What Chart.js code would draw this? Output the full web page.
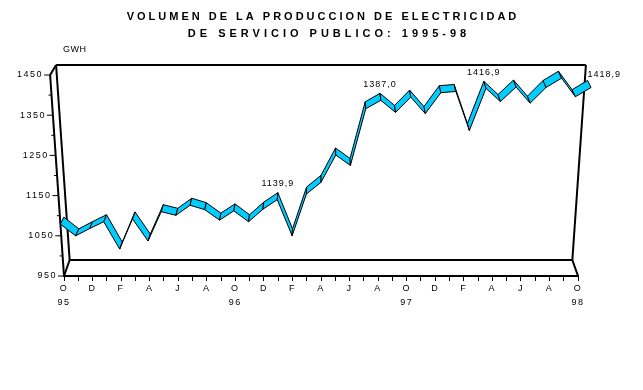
<!DOCTYPE html>
<html>
<head>
<meta charset="utf-8">
<script src="https://cdn.jsdelivr.net/npm/chart.js@4"></script>
<style>html,body{margin:0;padding:0;background:#fff;}canvas{display:block;}</style>
</head>
<body>
<canvas id="c" width="643" height="390"></canvas>
<script>
// ---- data ----
const titleLine1 = 'VOLUMEN DE LA PRODUCCION DE ELECTRICIDAD';
const titleLine2 = 'DE SERVICIO PUBLICO: 1995-98';
const unitLabel = 'GWH';
const months = ['O','N','D','E','F','M','A','M','J','J','A','S',
                'O','N','D','E','F','M','A','M','J','J','A','S',
                'O','N','D','E','F','M','A','M','J','J','A','S','O'];
const years = ['95','96','97','98'];
const gwh = [1079, 1050, 1068, 1085, 1017, 1092, 1037, 1110, 1101, 1126, 1115, 1089,
             1112, 1085, 1116, 1139.9, 1050, 1154, 1183, 1251, 1225, 1366, 1387.0, 1357,
             1395, 1354, 1406, 1409, 1312, 1416.9, 1384, 1420, 1380, 1419, 1442, 1396, 1418.9];
const labelledIdx = [15, 22, 29, 36];
const yTickValues = [950, 1000, 1050, 1100, 1150, 1200, 1250, 1300, 1350, 1400, 1450];
const yLabelValues = [950, 1050, 1150, 1250, 1350, 1450];

// ---- style ----
const FONT = "'Liberation Sans', Arial, sans-serif";
const RIBBON = '#00CCFF';
const SKEW = 0.054;      // perspective widening towards the top
const DEPTH_Y = -7;      // ribbon depth (vertical part)
const DEPTH_X = 0.987;   // ribbon depth (horizontal convergence)
const BACK = 0.978;      // back wall convergence

function skewX(ca, x, y) {
  const cx = (ca.left + ca.right) / 2;
  return cx + (x - cx) * (1 + SKEW * (ca.bottom - y) / (ca.bottom - ca.top));
}
function line(ctx, a, b) { ctx.beginPath(); ctx.moveTo(a.x, a.y); ctx.lineTo(b.x, b.y); ctx.stroke(); }
function spaceBox(ctx, box, spacing, dx) {
  if (!box || box._spaced) return;
  const orig = box.draw.bind(box);
  box.draw = function (a) { ctx.save(); ctx.letterSpacing = spacing; ctx.translate(dx, 0); orig(a); ctx.restore(); };
  box._spaced = true;
}

const plot3d = {
  id: 'plot3d',
  beforeDraw(chart) {
    const ctx = chart.ctx;
    ctx.letterSpacing = '1.5px';
    const tb = chart.titleBlock;
    spaceBox(ctx, tb, '3px', 2);
    const sub = chart.boxes.find(b => tb && b !== tb && b.constructor === tb.constructor);
    spaceBox(ctx, sub, '4px', 8);
  },
  beforeDatasetsDraw(chart) {
    const ctx = chart.ctx, ca = chart.chartArea, ys = chart.scales.y;
    const L = ca.left, R = ca.right, T = ca.top, B = ca.bottom, cx = (L + R) / 2;
    const fTL = {x: skewX(ca, L, T), y: T}, fBL = {x: L, y: B}, fBR = {x: R, y: B};
    const bTL = {x: cx + (fTL.x - cx) * BACK, y: T - 10};
    const bTR = {x: cx + (skewX(ca, R, T) - cx) * BACK, y: T - 10};
    const bBL = {x: cx + (L - cx) * BACK, y: B - 16};
    const bBR = {x: cx + (R - cx) * BACK, y: B - 16};
    ctx.save();
    ctx.strokeStyle = '#000';
    ctx.lineWidth = 2;
    ctx.lineJoin = 'miter';
    line(ctx, fBL, fTL); line(ctx, fTL, bTL); line(ctx, bTL, bTR); line(ctx, bTR, bBR);
    line(ctx, bBR, fBR); line(ctx, bBL, bBR); line(ctx, bBL, bTL); line(ctx, fBL, bBL);
    ctx.lineWidth = 1;
    ctx.fillStyle = '#000';
    ctx.font = '9px ' + FONT;
    ctx.letterSpacing = '1.5px';
    ctx.textAlign = 'right';
    ctx.textBaseline = 'middle';
    yTickValues.forEach(v => {
      const y = ys.getPixelForValue(v);
      const ex = skewX(ca, L, y);
      const major = yLabelValues.includes(v);
      line(ctx, {x: ex - (major ? 6 : 3), y}, {x: ex, y});
      if (major) ctx.fillText(String(v), ex - 7, y);
    });
    ctx.textAlign = 'left';
    ctx.letterSpacing = '0.5px';
    ctx.fillText(unitLabel, L - 1, T - 25.5);
    ctx.restore();
  },
  afterDatasetsDraw(chart) {
    const ctx = chart.ctx, ca = chart.chartArea, xs = chart.scales.x, ys = chart.scales.y;
    const cx = (ca.left + ca.right) / 2;
    const F = gwh.map((v, i) => {
      const y = ys.getPixelForValue(v);
      return {x: skewX(ca, xs.getPixelForValue(i), y), y};
    });
    const Bk = F.map(p => ({x: cx + (p.x - cx) * DEPTH_X, y: p.y + DEPTH_Y}));
    ctx.save();
    ctx.fillStyle = RIBBON;
    ctx.strokeStyle = '#000';
    ctx.lineWidth = 1;
    ctx.lineJoin = 'round';
    for (let i = 0; i < F.length - 1; i++) {
      ctx.beginPath();
      ctx.moveTo(F[i].x, F[i].y);
      ctx.lineTo(F[i + 1].x, F[i + 1].y);
      ctx.lineTo(Bk[i + 1].x, Bk[i + 1].y);
      ctx.lineTo(Bk[i].x, Bk[i].y);
      ctx.closePath();
      ctx.fill();
      ctx.stroke();
    }
    ctx.fillStyle = '#000';
    ctx.font = '9px ' + FONT;
    ctx.letterSpacing = '1px';
    ctx.textBaseline = 'middle';
    labelledIdx.forEach(i => {
      const txt = gwh[i].toFixed(1).replace('.', ',');
      const last = i === gwh.length - 1;
      ctx.textAlign = last ? 'left' : 'center';
      ctx.fillText(txt, Bk[i].x, Bk[i].y + (last ? -6 : -9));
    });
    ctx.restore();
  }
};

new Chart(document.getElementById('c'), {
  type: 'line',
  data: {
    labels: months,
    datasets: [{data: gwh, borderWidth: 0, pointRadius: 0, showLine: false}]
  },
  options: {
    responsive: false,
    animation: false,
    events: [],
    layout: {padding: {top: 0, left: 64, right: 65, bottom: 80.2}},
    plugins: {
      legend: {display: false},
      tooltip: {enabled: false},
      title: {
        display: true,
        text: titleLine1,
        color: '#000',
        font: {family: FONT, size: 11, weight: 'bold', lineHeight: 17 / 11},
        padding: {top: 8.5, bottom: 0}
      },
      subtitle: {
        display: true,
        text: titleLine2,
        color: '#000',
        font: {family: FONT, size: 11, weight: 'bold', lineHeight: 17 / 11},
        padding: {top: 0, bottom: 32.5}
      }
    },
    scales: {
      x: {
        type: 'category',
        offset: false,
        grid: {display: true, drawOnChartArea: false, drawTicks: true, tickLength: 5, color: '#000', lineWidth: 1},
        border: {display: true, color: '#000', width: 2},
        ticks: {
          autoSkip: false, maxRotation: 0, minRotation: 0, padding: 0, color: '#000',
          font: {family: FONT, size: 9, lineHeight: 1.6},
          callback(value, index) {
            if (index % 2) return '';
            const m = this.getLabelForValue(value);
            return index % 12 === 0 ? [m, years[index / 12]] : m;
          }
        }
      },
      y: {display: false, min: 950, max: 1450}
    }
  },
  plugins: [plot3d]
});
</script>
</body>
</html>
